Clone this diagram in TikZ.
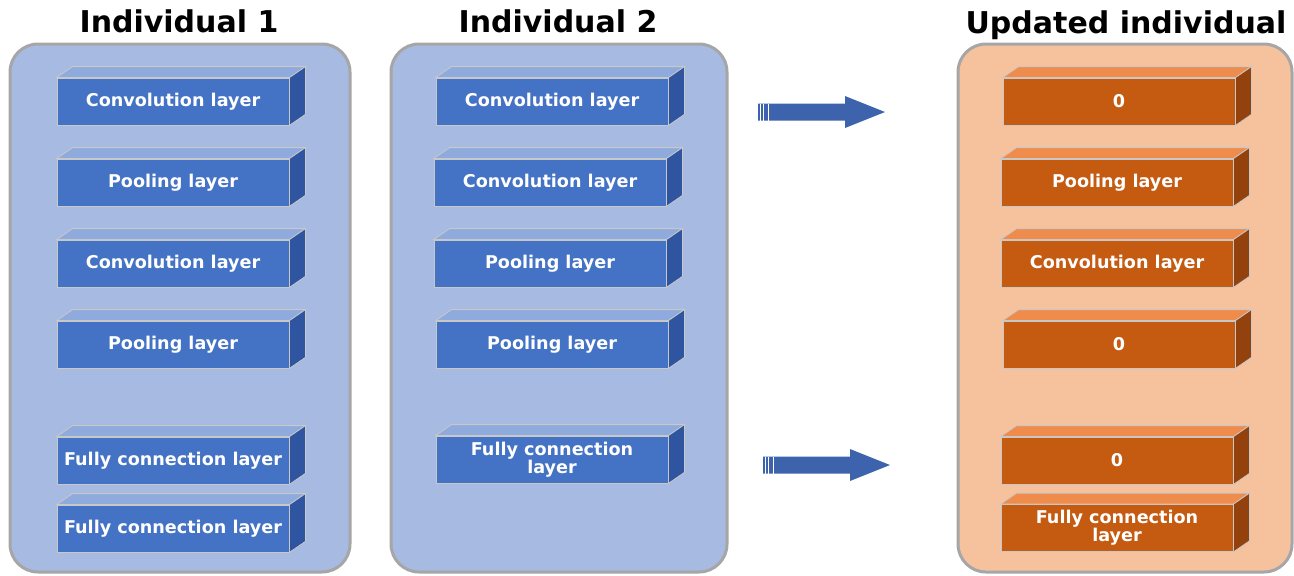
\documentclass[tikz,border=0pt]{standalone}
\usepackage{fontspec}
\setmainfont{DejaVu Sans}

\definecolor{bfront}{RGB}{68,114,196}
\definecolor{btop}{RGB}{143,170,220}
\definecolor{bside}{RGB}{47,85,160}
\definecolor{bpanel}{RGB}{167,186,225}
\definecolor{ofront}{RGB}{197,90,17}
\definecolor{otop}{RGB}{240,140,75}
\definecolor{oside}{RGB}{148,66,13}
\definecolor{opanel}{RGB}{246,194,158}
\definecolor{rim}{RGB}{166,166,166}
\definecolor{edge}{RGB}{200,200,200}
\definecolor{arrowblue}{RGB}{61,99,172}

\begin{document}
\begin{tikzpicture}[x=0.5pt,y=-0.5pt]
   \tikzstyle{title}=[font=\fontsize{15}{16}\selectfont\bfseries, inner sep=0pt]
   \tikzstyle{panel}=[draw=rim, line width=1.5pt, rounded corners=14pt, inner sep=0pt, minimum height=264pt]
   \tikzstyle{layer}=[draw=edge, line width=0.4pt, text=white, font=\fontsize{8.8}{9}\selectfont\bfseries, minimum width=116pt, minimum height=23.5pt, inner sep=0pt, align=center]
   \tikzstyle{blue layer}=[layer, fill=bfront]
   \tikzstyle{orange layer}=[layer, fill=ofront]
   \useasboundingbox (0,0) rectangle (1294,575);

% panels and titles
\node[panel, fill=bpanel, minimum width=170pt] (ind1) at (180,308) {};
\node[panel, fill=bpanel, minimum width=168pt] (ind2) at (559,308) {};
\node[panel, fill=opanel, minimum width=167pt] (upd) at (1125,308) {};
\node[title] (t1) at (179,21) {Individual 1};
\node[title] (t2) at (558,21) {Individual 2};
\node[title] (t3) at (1126,25) {Updated individual};

% individual 1
\node[blue layer] (a1) at (173,101.5) {Convolution layer};
\node[blue layer] (a2) at (173,182.5) {Pooling layer};
\node[blue layer] (a3) at (173,263.5) {Convolution layer};
\node[blue layer] (a4) at (173,344.5) {Pooling layer};
\node[blue layer] (a5) at (173,460.5) {Fully connection layer};
\node[blue layer] (a6) at (173,528.5) {Fully connection layer};

% individual 2
\node[blue layer] (b1) at (552,101.5) {Convolution layer};
\node[blue layer] (b2) at (550,182.5) {Convolution layer};
\node[blue layer] (b3) at (550,263.5) {Pooling layer};
\node[blue layer] (b4) at (552,344.5) {Pooling layer};
\node[blue layer] (b5) at (552,459.5) {Fully connection\\layer};

% updated individual
\node[orange layer] (c1) at (1119,101.5) {0};
\node[orange layer] (c2) at (1117,182.5) {Pooling layer};
\node[orange layer] (c3) at (1117,263.5) {Convolution layer};
\node[orange layer] (c4) at (1119,344.5) {0};
\node[orange layer] (c5) at (1117,460.5) {0};
\node[orange layer] (c6) at (1117,528) {Fully connection\\layer};

% top and side faces
\foreach \n in {a1,a2,a3,a4,a5,a6,b1,b2,b3,b4,b5} {
   \filldraw[fill=btop, draw=edge, line width=0.4pt] (\n.north west) -- ++(16,-11) -- ([shift={(16,-11)}]\n.north east) -- (\n.north east) -- cycle;
   \filldraw[fill=bside, draw=edge, line width=0.4pt] (\n.north east) -- ++(16,-11) -- ([shift={(16,-11)}]\n.south east) -- (\n.south east) -- cycle;
}
\foreach \n in {c1,c2,c3,c4,c5,c6} {
   \filldraw[fill=otop, draw=edge, line width=0.4pt] (\n.north west) -- ++(16,-11) -- ([shift={(16,-11)}]\n.north east) -- (\n.north east) -- cycle;
   \filldraw[fill=oside, draw=edge, line width=0.4pt] (\n.north east) -- ++(16,-11) -- ([shift={(16,-11)}]\n.south east) -- (\n.south east) -- cycle;
}

% block arrows
\coordinate (arr1) at (758,112);
\coordinate (arr2) at (763,465);
\foreach \n in {arr1,arr2} {
   \fill[arrowblue] (\n) ++(0,-8.5) -- ++(87,0) -- ++(0,-7.5) -- ++(40,16) -- ++(-40,16) -- ++(0,-7.5) -- ++(-87,0) -- cycle;
   \draw[white, line width=0.5pt] ([shift={(2.5,-8.5)}]\n) -- ++(0,17)
        ([shift={(5,-8.5)}]\n) -- ++(0,17)
        ([shift={(10.5,-8.5)}]\n) -- ++(0,17);
}

\end{tikzpicture}
\end{document}
